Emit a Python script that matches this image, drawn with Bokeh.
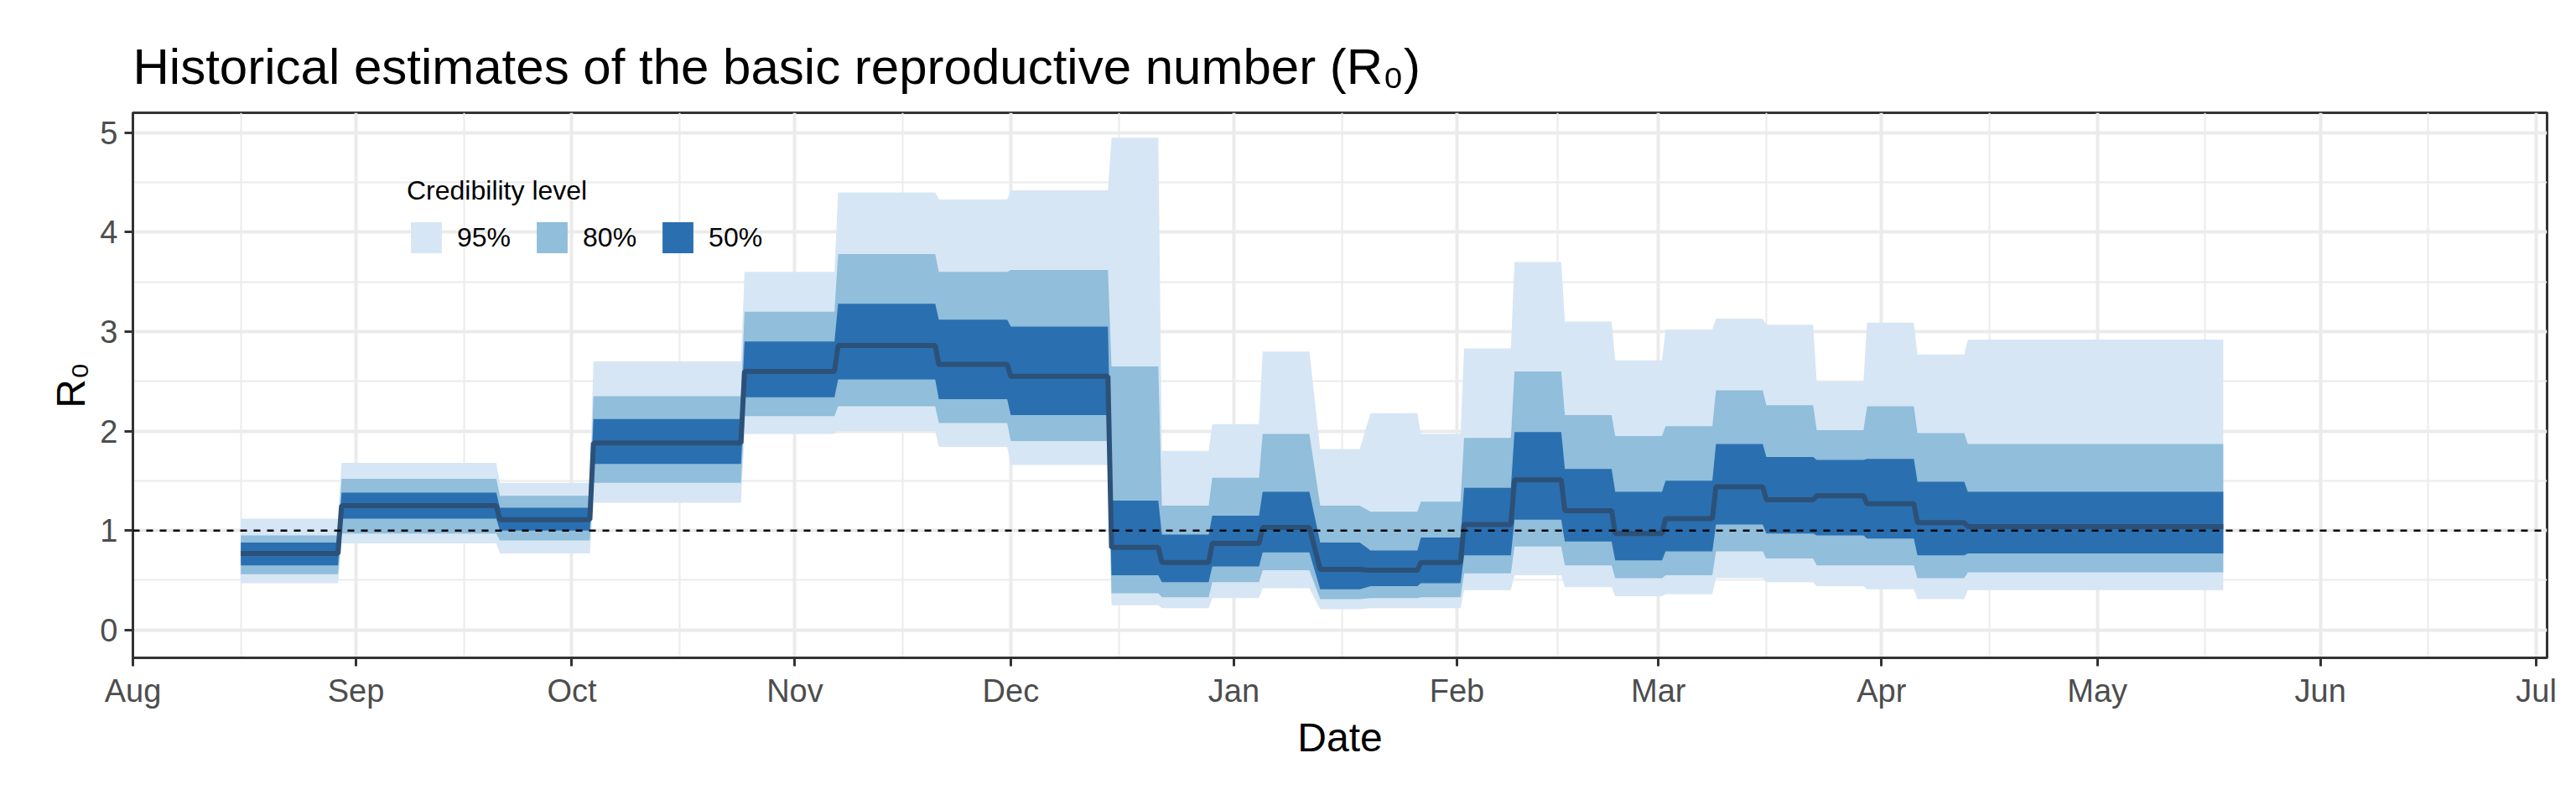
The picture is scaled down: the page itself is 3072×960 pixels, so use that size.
import datetime as dt
from bokeh.plotting import figure
from bokeh.models import (ColumnDataSource, FixedTicker, DatetimeTickFormatter, Span,
                          Legend, LegendItem, Range1d)
from bokeh.embed import file_html
from bokeh.resources import INLINE

# segment start / end dates and values
seg_start = ["2020-08-16","2020-08-30","2020-09-21","2020-10-04","2020-10-25","2020-11-07","2020-11-21",
             "2020-12-01","2020-12-15","2020-12-22","2020-12-29","2021-01-05","2021-01-13","2021-01-20",
             "2021-01-27","2021-02-02","2021-02-09","2021-02-16","2021-02-23","2021-03-02","2021-03-09",
             "2021-03-16","2021-03-23","2021-03-30","2021-04-06","2021-04-13"]
seg_end = ["2020-08-29","2020-09-20","2020-10-03","2020-10-24","2020-11-06","2020-11-20","2020-11-30",
           "2020-12-14","2020-12-21","2020-12-28","2021-01-04","2021-01-11","2021-01-18","2021-01-26",
           "2021-02-01","2021-02-08","2021-02-15","2021-02-22","2021-03-01","2021-03-08","2021-03-15",
           "2021-03-22","2021-03-29","2021-04-05","2021-04-12","2021-05-18"]
median = [0.77,1.25,1.11,1.88,2.60,2.86,2.67,2.55,0.83,0.68,0.87,1.03,0.61,0.60,0.68,1.06,1.51,1.20,
          0.97,1.12,1.44,1.31,1.35,1.27,1.08,1.04]
lo50 = [0.65,1.12,1.00,1.67,2.34,2.52,2.32,2.16,0.55,0.48,0.64,0.78,0.41,0.44,0.47,0.75,1.11,0.89,
        0.70,0.79,1.06,0.97,0.95,0.92,0.75,0.77]
hi50 = [0.88,1.38,1.23,2.12,2.90,3.28,3.12,3.05,1.30,0.96,1.15,1.39,0.88,0.80,0.93,1.43,1.99,1.62,
        1.39,1.50,1.87,1.74,1.71,1.72,1.49,1.39]
lo80 = [0.56,0.97,0.90,1.48,2.15,2.25,2.08,1.90,0.37,0.33,0.48,0.60,0.31,0.32,0.33,0.57,0.84,0.65,
        0.52,0.55,0.79,0.72,0.65,0.65,0.52,0.58]
hi80 = [0.95,1.52,1.35,2.35,3.20,3.78,3.60,3.62,2.65,1.25,1.53,1.97,1.25,1.19,1.29,1.93,2.60,2.16,
        1.95,2.05,2.41,2.26,2.01,2.25,1.98,1.87]
lo95 = [0.47,0.87,0.77,1.28,1.97,2.00,1.84,1.66,0.25,0.22,0.32,0.42,0.21,0.22,0.22,0.40,0.55,0.43,
        0.34,0.36,0.52,0.48,0.44,0.41,0.31,0.40]
hi95 = [1.12,1.68,1.48,2.70,3.60,4.40,4.33,4.42,4.95,1.80,2.07,2.80,1.82,2.18,1.97,2.83,3.70,3.10,
        2.71,3.02,3.13,3.07,2.50,3.09,2.77,2.92]

month_ticks = ["2020-08-01","2020-09-01","2020-10-01","2020-11-01","2020-12-01","2021-01-01",
               "2021-02-01","2021-03-01","2021-04-01","2021-05-01","2021-06-01","2021-07-01"]
minor_ticks = ["2020-08-16","2020-09-16","2020-10-16","2020-11-16","2020-12-16","2021-01-16",
               "2021-02-15","2021-03-16","2021-04-16","2021-05-16","2021-06-16"]

def d(s):
    return dt.datetime.strptime(s, "%Y-%m-%d")

def ms(s):
    return (d(s) - dt.datetime(1970, 1, 1)).total_seconds() * 1000

def stepify(vals):
    out = []
    for v in vals:
        out += [v, v]
    return out

xs = []
for s, e in zip(seg_start, seg_end):
    xs += [d(s), d(e) + dt.timedelta(hours=12)]

src = ColumnDataSource(dict(x=xs, med=stepify(median), lo50=stepify(lo50), hi50=stepify(hi50),
                            lo80=stepify(lo80), hi80=stepify(hi80), lo95=stepify(lo95), hi95=stepify(hi95)))

FONT = "Liberation Sans"
p = figure(width=3056, height=944, x_axis_type="datetime", output_backend="svg",
           toolbar_location=None, min_border_left=158, min_border_right=19,
           min_border_top=134, min_border_bottom=160,
           x_range=Range1d(d("2020-08-01"), d("2021-07-02") + dt.timedelta(hours=12)),
           y_range=Range1d(-0.28, 5.2))

p.title.text = "Historical estimates of the basic reproductive number (R₀)"
p.title.text_font = FONT
p.title.text_font_size = "60px"
p.title.text_font_style = "normal"
p.title.text_color = "black"
p.title.offset = 0
p.title.standoff = 44

c95, c80, c50, cmed = "#d7e6f4", "#90bedb", "#2a6fb0", "#2c5178"
r95 = p.varea(x="x", y1="lo95", y2="hi95", source=src, fill_color=c95)
r80 = p.varea(x="x", y1="lo80", y2="hi80", source=src, fill_color=c80)
r50 = p.varea(x="x", y1="lo50", y2="hi50", source=src, fill_color=c50)
p.line(x="x", y="med", source=src, line_color=cmed, line_width=6)

p.add_layout(Span(location=1, dimension="width", line_color="black", line_dash="8 8", line_width=2.5))

p.xaxis.ticker = FixedTicker(ticks=[ms(t) for t in month_ticks], minor_ticks=[ms(t) for t in minor_ticks])
p.xaxis.formatter = DatetimeTickFormatter(months="%b", days="%b", years="%b", hours="%b")
p.yaxis.ticker = FixedTicker(ticks=[0, 1, 2, 3, 4, 5], minor_ticks=[0.5, 1.5, 2.5, 3.5, 4.5])

for ax in (p.xaxis, p.yaxis):
    ax.major_label_text_font = FONT
    ax.major_label_text_font_size = "38px"
    ax.major_label_text_color = "#4d4d4d"
    ax.axis_label_text_font = FONT
    ax.axis_label_text_font_size = "48px"
    ax.axis_label_text_font_style = "normal"
    ax.axis_label_text_color = "black"
    ax.major_tick_line_color = "#333333"
    ax.major_tick_line_width = 3
    ax.major_tick_out = 10
    ax.major_tick_in = 0
    ax.minor_tick_line_color = None
    ax.axis_line_color = "#333333"
    ax.axis_line_width = 3
p.xaxis.axis_label = "Date"
p.yaxis.axis_label = "R₀"
p.xaxis.major_label_standoff = 8
p.yaxis.major_label_standoff = 8

for g in (p.xgrid, p.ygrid):
    g.grid_line_color = "#ebebeb"
    g.grid_line_width = 4
    g.minor_grid_line_color = "#ebebeb"
    g.minor_grid_line_width = 2

p.outline_line_color = "#333333"
p.outline_line_width = 3
p.outline_line_alpha = 1

legend = Legend(items=[LegendItem(label="95%", renderers=[r95]),
                       LegendItem(label="80%", renderers=[r80]),
                       LegendItem(label="50%", renderers=[r50])],
                orientation="horizontal", title="Credibility level",
                location=(327, 478), background_fill_alpha=0, border_line_color=None,
                glyph_width=46, glyph_height=46, label_text_font=FONT, label_text_font_size="32px",
                label_text_color="black", title_text_color="black",
                title_text_font=FONT, title_text_font_size="32px", title_text_font_style="normal",
                spacing=26, label_standoff=14, padding=0, margin=0, title_standoff=14)
p.add_layout(legend)

open("out.html", "w").write(file_html(p, INLINE))
